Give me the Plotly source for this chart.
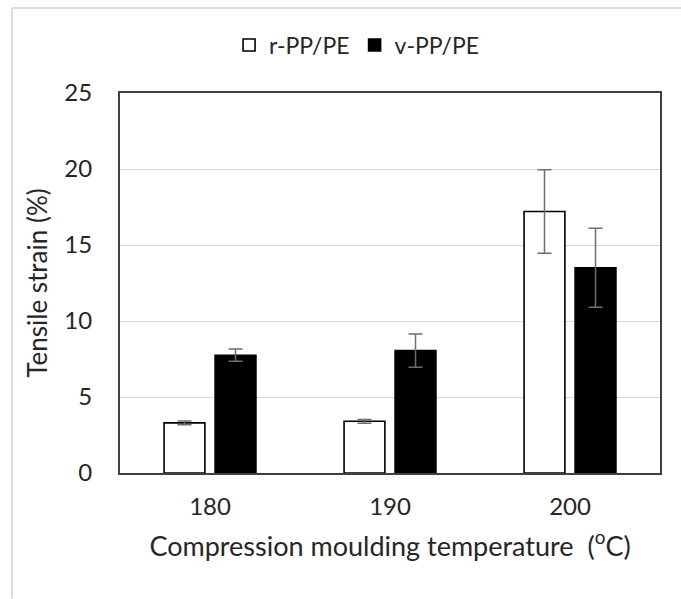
import plotly.graph_objects as go

categories = ["180", "190", "200"]
r_values = [3.3, 3.4, 17.2]
r_errors = [0.12, 0.12, 2.75]
v_values = [7.75, 8.05, 13.5]
v_errors = [0.4, 1.1, 2.6]

FONT = "Lato"
border = "#404040"
txt = "#262626"

fig = go.Figure()
fig.add_trace(go.Bar(
    name="r-PP/PE", x=categories, y=r_values,
    marker=dict(color="white", line=dict(color="black", width=1.6)),
    error_y=dict(type="data", array=r_errors, color="#6e6e6e", thickness=1.5, width=7),
))
fig.add_trace(go.Bar(
    name="v-PP/PE", x=categories, y=v_values,
    marker=dict(color="black", line=dict(color="black", width=1.6)),
    error_y=dict(type="data", array=v_errors, color="#6e6e6e", thickness=1.5, width=7),
))

fig.update_layout(
    width=681, height=599,
    margin=dict(l=120, r=21, t=93, b=126),
    paper_bgcolor="white", plot_bgcolor="white",
    barmode="group", bargap=0.433, bargroupgap=0.2,
    font=dict(family=FONT, size=24, color=txt),
    showlegend=True,
    legend=dict(orientation="h", x=0.439, xanchor="center", y=1.126, yanchor="middle",
                font=dict(size=23, color=txt), itemwidth=30),
    xaxis=dict(
        showline=True, linecolor=border, linewidth=2, mirror=True,
        ticks="", tickfont=dict(size=24), ticklabelstandoff=11,
        title=dict(text="Compression moulding temperature  (<sup>o</sup>C)", font=dict(size=27), standoff=18),
    ),
    yaxis=dict(
        range=[0, 25], dtick=5,
        showline=True, linecolor=border, linewidth=2, mirror=True,
        showgrid=True, gridcolor="#d9d9d9", gridwidth=1, zeroline=False,
        ticks="", tickfont=dict(size=24), ticklabelstandoff=21,
        title=dict(text="Tensile strain (%)", font=dict(size=26), standoff=9),
    ),
    shapes=[
        dict(type="line", xref="paper", yref="paper", x0=-0.2, x1=1.04, y0=1.224, y1=1.224,
             line=dict(color="#dcdcdc", width=2)),
        dict(type="line", xref="paper", yref="paper", x0=-0.2, x1=-0.2, y0=-0.33, y1=1.224,
             line=dict(color="#dcdcdc", width=2)),
    ],
)

fig.write_html("out.html", config={"displayModeBar": False},
               post_script="document.body.style.margin='0';")
